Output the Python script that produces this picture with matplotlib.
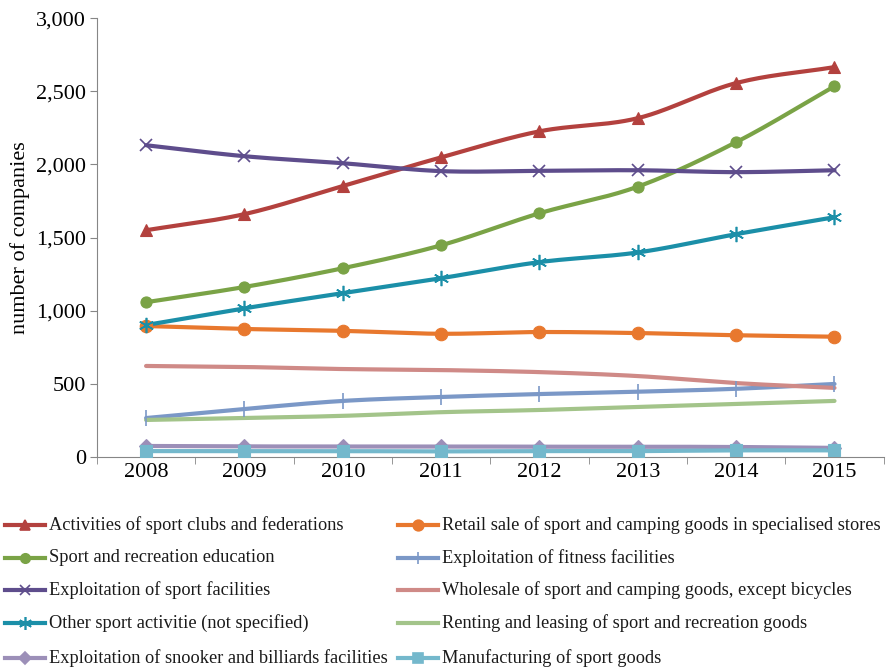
import numpy as np
import matplotlib
matplotlib.use("Agg")
import matplotlib.pyplot as plt
from matplotlib.lines import Line2D

plt.rcParams['font.family'] = ['Liberation Serif', 'DejaVu Serif']

years = [2008, 2009, 2010, 2011, 2012, 2013, 2014, 2015]
clubs = [1550, 1660, 1852, 2048, 2226, 2316, 2556, 2665]
retail = [895, 875, 862, 842, 854, 847, 832, 822]
education = [1058, 1162, 1290, 1447, 1666, 1848, 2152, 2534]
fitness = [266, 328, 383, 410, 430, 446, 466, 499]
sport_fac = [2131, 2056, 2008, 1954, 1956, 1960, 1947, 1960]
wholesale = [622, 615, 601, 594, 580, 553, 505, 472]
other = [902, 1016, 1120, 1222, 1332, 1398, 1523, 1639]
renting = [253, 266, 281, 306, 321, 342, 362, 383]
snooker = [75, 72, 72, 72, 70, 70, 68, 62]
manufacturing = [40, 40, 40, 38, 40, 40, 45, 45]

series = [
    ("Activities of sport clubs and federations", clubs, "#B3413E", "^", 8),
    ("Retail sale of sport and camping goods in specialised stores", retail, "#E8782E", "o", 9),
    ("Sport and recreation education", education, "#7AA346", "o", 8),
    ("Exploitation of fitness facilities", fitness, "#7B98C7", "|", 11),
    ("Exploitation of sport facilities", sport_fac, "#5E4D8C", "x", 9),
    ("Wholesale of sport and camping goods, except bicycles", wholesale, "#CF8A87", None, 0),
    ("Other sport activitie (not specified)", other, "#1B8FA8", (6, 2, 0), 11),
    ("Renting and leasing of sport and recreation goods", renting, "#A3C48A", None, 0),
    ("Exploitation of snooker and billiards facilities", snooker, "#9C8FB8", "D", 7),
    ("Manufacturing of sport goods", manufacturing, "#74B8CC", "s", 9),
]


def smooth(x, y, n=30):
    x = np.asarray(x, float)
    y = np.asarray(y, float)
    px = np.concatenate([[2 * x[0] - x[1]], x, [2 * x[-1] - x[-2]]])
    py = np.concatenate([[2 * y[0] - y[1]], y, [2 * y[-1] - y[-2]]])
    xs, ys = [], []
    for i in range(1, len(px) - 2):
        t = np.linspace(0, 1, n, endpoint=False)
        p0, p1, p2, p3 = (np.array([px[j], py[j]]) for j in range(i - 1, i + 3))
        m1 = (p2 - p0) * 0.5
        m2 = (p3 - p1) * 0.5
        h00 = 2 * t**3 - 3 * t**2 + 1
        h10 = t**3 - 2 * t**2 + t
        h01 = -2 * t**3 + 3 * t**2
        h11 = t**3 - t**2
        pts = (np.outer(h00, p1) + np.outer(h10, m1) + np.outer(h01, p2) + np.outer(h11, m2))
        xs.extend(pts[:, 0])
        ys.extend(pts[:, 1])
    xs.append(x[-1])
    ys.append(y[-1])
    return np.array(xs), np.array(ys)


W, H = 889, 671
fig = plt.figure(figsize=(W / 100, H / 100), dpi=100)
ax = fig.add_axes([0.109, 0.319, 0.885, 0.654])

for name, vals, col, mk, ms in series:
    sx, sy = smooth(years, vals)
    ax.plot(sx, sy, color=col, lw=3, solid_capstyle='round', zorder=2)
    if mk is not None:
        mew = 1.2 if mk in ("|", "x", (6, 2, 0)) else 0.8
        ax.plot(years, vals, linestyle='none', marker=mk, markersize=ms, color=col,
                markeredgecolor=col, markeredgewidth=mew, zorder=3)

ax.set_xlim(2007.5, 2015.5)
ax.set_ylim(0, 3000)
ax.set_yticks(np.arange(0, 3001, 500))
ax.set_yticklabels([f"{v:,}" for v in range(0, 3001, 500)])
ax.set_xticks(years)
ax.set_xticklabels([str(y) for y in years])
ax.set_xticks(np.arange(2007.5, 2016, 1), minor=True)
ax.tick_params(axis='x', which='major', length=0, labelsize=16, pad=4)
ax.tick_params(axis='x', which='minor', length=5, color='#868686', direction='out')
ax.tick_params(axis='y', length=5, color='#868686', labelsize=16, direction='out', pad=3)
for s in ['top', 'right']:
    ax.spines[s].set_visible(False)
for s in ['left', 'bottom']:
    ax.spines[s].set_color('#868686')
ax.set_ylabel("number of companies", fontsize=16, labelpad=4)

# legend drawn manually in two columns
rows_y = [525, 558, 590, 623, 658]
left_cols = [0, 2, 4, 6, 8]
right_cols = [1, 3, 5, 7, 9]
for col_idx, (x0, idxs) in enumerate([(5, left_cols), (398, right_cols)]):
    for r, i in enumerate(idxs):
        name, vals, col, mk, ms = series[i]
        yy = 1 - rows_y[r] / H
        xa, xb = x0 / W, (x0 + 40) / W
        fig.add_artist(Line2D([xa, xb], [yy, yy], transform=fig.transFigure, color=col, lw=3))
        if mk is not None:
            fig.add_artist(Line2D([(xa + xb) / 2], [yy], transform=fig.transFigure,
                                  linestyle='none', marker=mk, markersize=ms * 0.85,
                                  color=col, markeredgecolor=col, markeredgewidth=1.2))
        fig.text((x0 + 44) / W, yy, name, fontsize=13.2, va='center', ha='left', color='#1a1a1a')

fig.savefig("out.png", dpi=100)
